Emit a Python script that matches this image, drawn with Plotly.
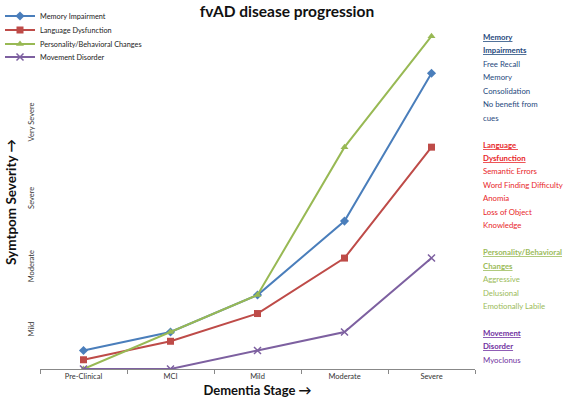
import plotly.graph_objects as go

stages = ["Pre-Clinical", "MCI", "Mild", "Moderate", "Severe"]
memory = [1, 2, 4, 8, 16]
language = [0.5, 1.5, 3, 6, 12]
personality = [0, 2, 4, 12, 18]
movement = [0, 0, 1, 2, 6]

series_names = ["Memory Impairment", "Language Dysfunction",
                "Personality/Behavioral Changes", "Movement Disorder"]
series_values = [memory, language, personality, movement]
series_colors = ["#4A7EBB", "#BE4B48", "#98B954", "#7D60A0"]
series_symbols = ["diamond", "square", "triangle-up", "x-thin"]

severity_ticks = [2.1, 5.5, 9.2, 13.3]
severity_labels = ["Mild", "Moderate", "Severe", "Very Severe"]

notes = [
    (["Memory", "Impairments"], ["Free Recall", "Memory", "Consolidation", "No benefit from", "cues"], "#1F497D"),
    (["Language ", "Dysfunction"], ["Semantic Errors", "Word Finding Difficulty", "Anomia", "Loss of Object", "Knowledge"], "#E8262A"),
    (["Personality/Behavioral", "Changes"], ["Aggressive", "Delusional", "Emotionally Labile"], "#9BBB59"),
    (["Movement", "Disorder"], ["Myoclonus"], "#7030A0"),
]

FONT = "Lato, 'Open Sans', sans-serif"
W, H = 567, 402
ML, MR, MT, MB = 40, 92, 27, 33
PW, PH = W - ML - MR, H - MT - MB


def px_to_paper_x(px):
    return (px - ML) / PW


def px_to_paper_y(py):
    return (MT + PH - py) / PH


legend_keys = ["legend", "legend2", "legend3", "legend4"]
legend_ypx = [16, 30, 44, 57]

fig = go.Figure()
for name, vals, col, sym, lk in zip(series_names, series_values, series_colors, series_symbols, legend_keys):
    fig.add_trace(go.Scatter(
        x=stages, y=vals, name=name, mode="lines+markers", legend=lk,
        line=dict(color=col, width=2),
        marker=dict(symbol=sym, size=7, color=col,
                    line=dict(color=col, width=1.5 if sym == "x-thin" else 0)),
    ))

annotations = []
ypx = 37
line_h = 13.45
for heads, items, col in notes:
    for t in heads:
        annotations.append(dict(text="<b><u>" + t + "</u></b>", x=px_to_paper_x(481),
                                y=px_to_paper_y(ypx), xref="paper", yref="paper",
                                xanchor="left", yanchor="middle", showarrow=False,
                                font=dict(family=FONT, size=7.8, color=col)))
        ypx += line_h
    for t in items:
        annotations.append(dict(text=t, x=px_to_paper_x(481),
                                y=px_to_paper_y(ypx), xref="paper", yref="paper",
                                xanchor="left", yanchor="middle", showarrow=False,
                                font=dict(family=FONT, size=7.8, color=col)))
        ypx += line_h
    ypx += line_h

# y-axis title
annotations.append(dict(text="<b>Symtpom Severity →</b>", textangle=-90,
                        x=px_to_paper_x(11), y=px_to_paper_y(202),
                        xref="paper", yref="paper", xanchor="center", yanchor="middle",
                        showarrow=False, font=dict(family=FONT, size=13.5, color="#111")))

layout_legends = {}
for lk, ly in zip(legend_keys, legend_ypx):
    layout_legends[lk] = dict(x=0 / W, y=1 - ly / H, xref="container", yref="container",
                              xanchor="left", yanchor="middle",
                              font=dict(size=7.3, color="#222", family=FONT),
                              bgcolor="rgba(0,0,0,0)", itemwidth=30)

fig.update_layout(
    width=W, height=H,
    margin=dict(l=ML, r=MR, t=MT, b=MB, autoexpand=False),
    paper_bgcolor="white", plot_bgcolor="white",
    font=dict(family=FONT, color="#222"),
    title=dict(text="<b>fvAD disease progression</b>", x=287 / W, xanchor="center",
               y=1 - 12 / H, yanchor="middle", yref="container",
               font=dict(size=15.5, color="#111", family=FONT)),
    showlegend=True,
    xaxis=dict(type="category", range=[-0.5, 4.5], showline=True, linecolor="#888",
               linewidth=1, ticks="outside", tickson="boundaries", ticklen=4,
               tickcolor="#888", showgrid=False, zeroline=False,
               tickfont=dict(size=7.5, color="#333"),
               title=dict(text="<b>Dementia Stage →</b>", font=dict(size=13, color="#111"), standoff=5)),
    yaxis=dict(range=[0, 18.5], showline=False, showgrid=False, zeroline=False,
               tickvals=severity_ticks, ticktext=severity_labels, tickangle=-90,
               ticks="", ticklabelstandoff=4, tickfont=dict(size=7.5, color="#333")),
    annotations=annotations,
    **layout_legends,
)

fig.write_html("out.html", config={"displayModeBar": False},
               post_script="document.body.style.margin='0';")
